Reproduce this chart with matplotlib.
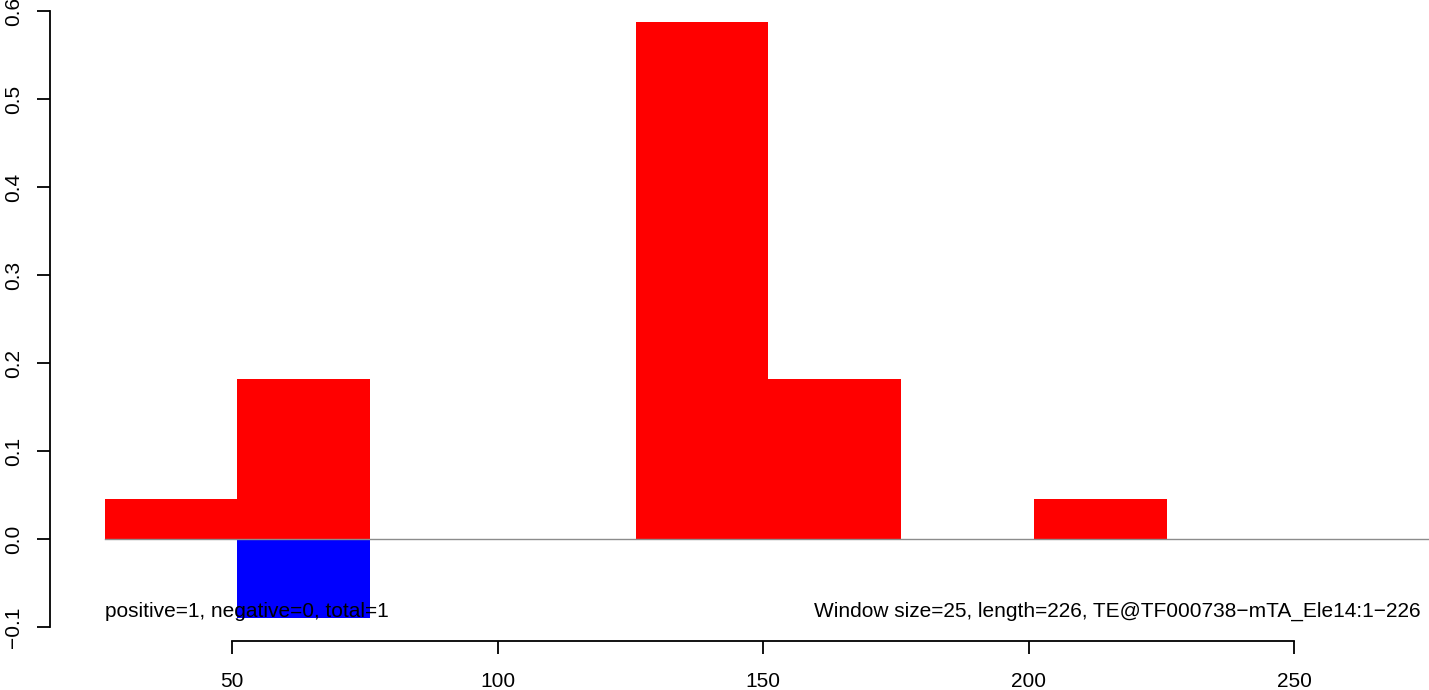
import matplotlib
matplotlib.use("Agg")
import matplotlib.pyplot as plt

plt.rcParams['font.family'] = ['Liberation Sans', 'DejaVu Sans']

# Data
win_starts = [26, 51, 76, 101, 126, 151, 176, 201]
window_size = 25
pos_values = [0.0455, 0.1818, 0.0, 0.0, 0.588, 0.1818, 0.0, 0.0455]
neg_values = [0.0, -0.0901, 0.0, 0.0, 0.0, 0.0, 0.0, 0.0]
x_ticks = [50, 100, 150, 200, 250]
y_ticks = [-0.1, 0.0, 0.1, 0.2, 0.3, 0.4, 0.5, 0.6]
left_text = "positive=1, negative=0, total=1"
right_text = "Window size=25, length=226, TE@TF000738\u2212mTA_Ele14:1\u2212226"

W, H = 1429, 690
fig = plt.figure(figsize=(W / 100, H / 100), dpi=100)
ax = fig.add_axes([50 / W, (H - 641) / H, (W - 50) / W, 641 / H])

ax.set_xlim(15.73, 275.4)
ax.set_ylim(-0.1159, 0.6125)

ax.bar(win_starts, pos_values, width=window_size, align='edge', color='#ff0000', linewidth=0)
ax.bar(win_starts, neg_values, width=window_size, align='edge', color='#0000ff', linewidth=0)
ax.plot([26, 300], [0, 0], color='#8c8c8c', linewidth=1.0, clip_on=True)

for s in ['top', 'right']:
    ax.spines[s].set_visible(False)
ax.spines['left'].set_bounds(-0.1, 0.6)
ax.spines['bottom'].set_bounds(50, 250)
for s in ['left', 'bottom']:
    ax.spines[s].set_linewidth(1.3)

ax.set_xticks(x_ticks)
ax.set_xticklabels([str(v) for v in x_ticks])
ax.set_yticks(y_ticks)
ax.set_yticklabels([("\u2212" if v < 0 else "") + f"{abs(v):.1f}" for v in y_ticks],
                   rotation=90, va='center')
ax.tick_params(axis='both', direction='out', length=9.5, width=1.3, labelsize=15, colors='black')
ax.tick_params(axis='x', pad=13)
ax.tick_params(axis='y', pad=10)

ax.text(26, -0.0825, left_text, fontsize=15, ha='left', va='center')
ax.text(159.5, -0.0825, right_text, fontsize=15, ha='left', va='center', clip_on=False)

fig.savefig("out.png", dpi=100)
